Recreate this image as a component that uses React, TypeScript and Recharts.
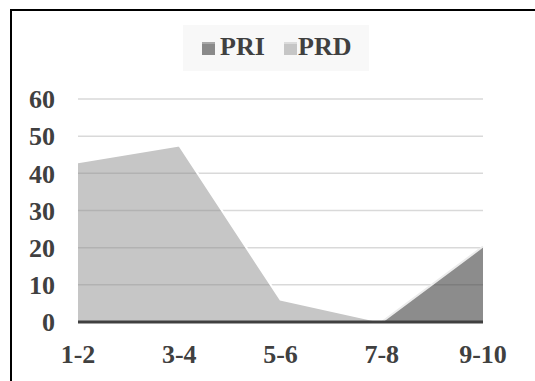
import React from "react";
import { AreaChart, Area, XAxis, YAxis, CartesianGrid, Legend } from "recharts";

const categories = ["1-2", "3-4", "5-6", "7-8", "9-10"];
const priValues = [0, 0, 0, 0, 20.3];
const prdValues = [43, 47.5, 6, 0, 0];
const yTicks = [0, 10, 20, 30, 40, 50, 60];
const seriesNames = ["PRI", "PRD"];

const data = categories.map((c, i) => ({ name: c, PRI: priValues[i], PRD: prdValues[i] }));

const FONT = "'Liberation Serif', 'Times New Roman', serif";
const TEXT = "#404040";

const LegendBox = () => (
  <svg width={186} height={46} style={{ display: "block" }}>
    <rect x={0} y={0} width={186} height={46} fill="#f8f8f8" />
    <rect x={19} y={17} width={13} height={13} fill="#8a8a8a" />
    <rect x={19} y={17} width={13} height={2} fill="#a8a8a8" />
    <text x={37} y={30} fontFamily={FONT} fontWeight="bold" fontSize={26} fill={TEXT}>
      {seriesNames[0]}
    </text>
    <rect x={101} y={17} width={13} height={13} fill="#c6c6c6" />
    <rect x={101} y={17} width={13} height={2} fill="#dcdcdc" />
    <text x={115} y={30} fontFamily={FONT} fontWeight="bold" fontSize={26} fill={TEXT}>
      {seriesNames[1]}
    </text>
  </svg>
);

export default function App() {
  return (
    <div
      style={{
        position: "fixed",
        left: 0,
        top: 0,
        width: 535,
        height: 381,
        overflow: "hidden",
        background: "#fff",
      }}
    >
      <div
        style={{
          position: "absolute",
          left: 10,
          top: 9,
          width: 600,
          height: 500,
          borderLeft: "2px solid #000",
          borderTop: "2px solid #000",
          boxSizing: "border-box",
        }}
      />
      <div style={{ position: "absolute", left: 0, top: 0 }}>
        <AreaChart
          width={535}
          height={381}
          data={data}
          margin={{ top: 99, right: 52, bottom: 28, left: 0 }}
        >
          <CartesianGrid horizontal vertical={false} stroke="#d9d9d9" strokeWidth={1.5} />
          <YAxis
            domain={[0, 60]}
            ticks={yTicks}
            width={78}
            axisLine={false}
            tickLine={false}
            tickSize={0}
            tickMargin={23}
            interval={0}
            tick={{ fontFamily: FONT, fontWeight: "bold", fontSize: 26, fill: TEXT }}
          />
          <Legend
            layout="horizontal"
            verticalAlign="middle"
            align="center"
            wrapperStyle={{ position: "absolute", left: 183, top: 25, width: 186, height: 46 }}
            content={() => <LegendBox />}
          />
          <Area
            type="linear"
            dataKey="PRD"
            fill="#888888"
            fillOpacity={0.48}
            stroke="#ffffff"
            strokeWidth={2}
            isAnimationActive={false}
            dot={false}
            activeDot={false}
          />
          <Area
            type="linear"
            dataKey="PRI"
            fill="#404040"
            fillOpacity={0.6}
            stroke="#ececec"
            strokeWidth={2}
            isAnimationActive={false}
            dot={false}
            activeDot={false}
          />
          <XAxis
            dataKey="name"
            height={31}
            axisLine={{ stroke: "#404040", strokeWidth: 3 }}
            tickLine={false}
            tickSize={0}
            tickMargin={23}
            interval={0}
            tick={{ fontFamily: FONT, fontWeight: "bold", fontSize: 26, fill: TEXT }}
          />
        </AreaChart>
      </div>
    </div>
  );
}
